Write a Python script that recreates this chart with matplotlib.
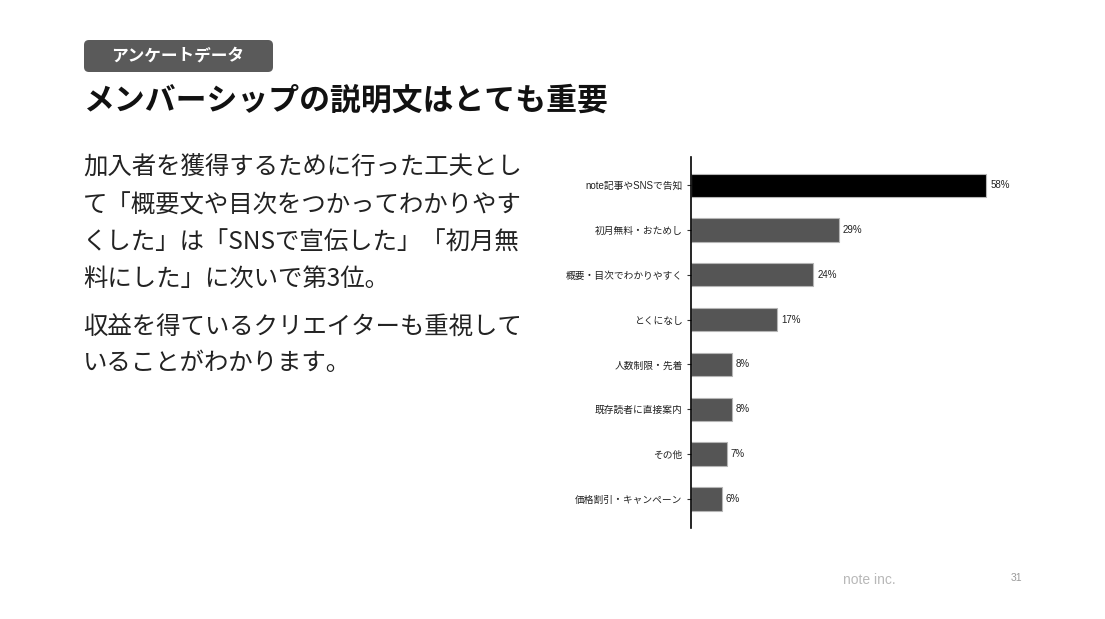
import matplotlib

matplotlib.use("Agg")

import matplotlib.pyplot as plt
from matplotlib.patches import FancyBboxPatch


W, H = 1105, 619

JP = ["Noto Sans CJK JP", "DejaVu Sans"]
LATIN_JP = ["Liberation Sans", "Noto Sans CJK JP", "DejaVu Sans"]

categories = [
    "note記事やSNSで告知",
    "初月無料・おためし",
    "概要・目次でわかりやすく",
    "とくになし",
    "人数制限・先着",
    "既存読者に直接案内",
    "その他",
    "価格割引・キャンペーン",
]
values = [58, 29, 24, 17, 8, 8, 7, 6]
bar_colors = ["#000000"] + ["#555555"] * 7

tag_text = "アンケートデータ"
title_text = "メンバーシップの説明文はとても重要"
body_lines = [
    "加入者を獲得するために行った工夫とし",
    "て「概要文や目次をつかってわかりやす",
    "くした」は「SNSで宣伝した」「初月無",
    "料にした」に次いで第3位。",
    "収益を得ているクリエイターも重視して",
    "いることがわかります。",
]
body_y = [168, 206, 243, 279, 327, 363]


def main() -> None:
    fig = plt.figure(figsize=(W / 100, H / 100), dpi=100)
    fig.patch.set_facecolor("white")

    # full-figure layer in pixel coordinates for the slide texts
    page = fig.add_axes([0, 0, 1, 1])
    page.set_xlim(0, W)
    page.set_ylim(H, 0)
    page.axis("off")

    tag = FancyBboxPatch(
        (84, 40),
        189,
        32,
        boxstyle="round,pad=0,rounding_size=5",
        facecolor="#5a5a5a",
        edgecolor="none",
    )
    page.add_patch(tag)
    page.text(178, 56, tag_text, color="white", fontsize=12,
              fontweight="bold", family=JP, ha="center", va="center")

    page.text(84, 101, title_text, color="#111111", fontsize=22.2,
              fontweight="bold", family=JP, ha="left", va="center")

    for line, y in zip(body_lines, body_y):
        page.text(83, y, line, color="#222222", fontsize=17.6,
                  family=JP, ha="left", va="center")

    page.text(843, 580, "note inc.", color="#b8b8b8", fontsize=10,
              family=["Liberation Sans"], ha="left", va="center")
    page.text(1016, 578, "31", color="#9a9a9a", fontsize=7.5,
              family=["Liberation Sans"], ha="center", va="center")

    # bar chart
    left, right, top, bottom = 691, 1030, 157, 528
    ax = fig.add_axes([
        left / W,
        (H - bottom) / H,
        (right - left) / W,
        (bottom - top) / H,
    ])
    ax.patch.set_alpha(0)

    positions = list(range(len(categories)))
    bars = ax.barh(
        positions,
        values,
        height=0.52,
        color=bar_colors,
        edgecolor="#b5b5b5",
        linewidth=0.8,
    )
    ax.bar_label(
        bars,
        labels=[f"{v}%" for v in values],
        padding=3,
        fontsize=7,
        family=LATIN_JP,
        color="#222222",
    )

    ax.set_xlim(0, (right - left) / ((986 - left) / values[0]))
    ax.set_ylim(7.65, -0.63)
    ax.set_yticks(positions)
    ax.set_yticklabels(categories, family=LATIN_JP, fontsize=7,
                       color="#222222")
    ax.set_xticks([])
    ax.tick_params(axis="y", length=3, width=0.8, pad=3, color="#333333")

    for side in ("top", "right", "bottom"):
        ax.spines[side].set_visible(False)
    ax.spines["left"].set_linewidth(1.2)
    ax.spines["left"].set_color("#000000")

    fig.savefig("out.png", dpi=100)
    plt.close(fig)


if __name__ == "__main__":
    main()
